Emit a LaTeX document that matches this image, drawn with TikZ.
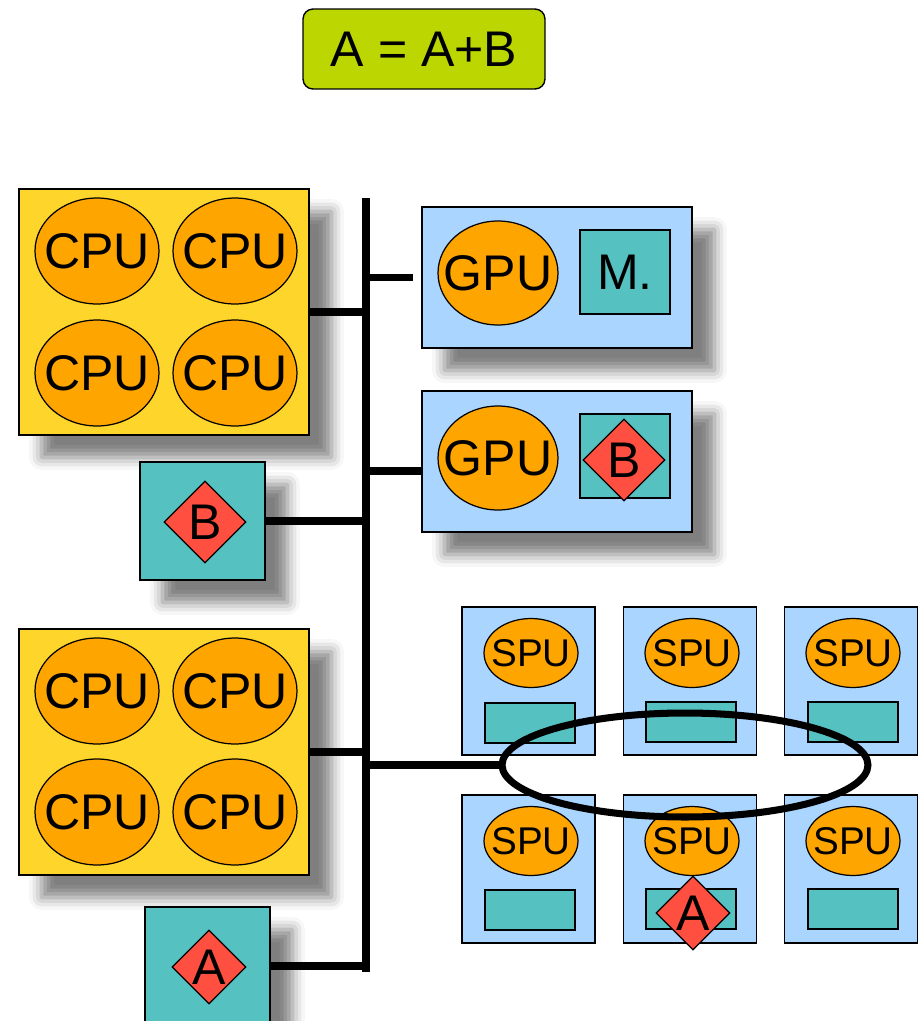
\documentclass[tikz,border=0pt]{standalone}
\usepackage{fontspec}
\setmainfont{Liberation Sans}
\usepackage{xcolor}
\usepackage{tikz}
\usetikzlibrary{shapes.geometric, positioning, shadows.blur}
\definecolor{hostyellow}{HTML}{FDD52B}
\definecolor{coreorange}{HTML}{FFA500}
\definecolor{memteal}{HTML}{55C1C1}
\definecolor{cardblue}{HTML}{AAD5FF}
\definecolor{opred}{HTML}{FF4F40}
\definecolor{oplime}{HTML}{BBD600}
\newcommand{\labelfont}{\fontsize{28.5}{31}\selectfont}
\newcommand{\spufont}{\fontsize{22}{24}\selectfont}
\tikzstyle{bus}     = [line width=4pt]
\tikzstyle{shadowed} = [blur shadow={shadow xshift=0.45cm, shadow yshift=-0.45cm, shadow blur radius=0.25cm, shadow opacity=50}]
\tikzset{every node/.style={align=center}}

\begin{document}
\begin{tikzpicture}[x=0.02cm, y=-0.02cm,
    board/.style={rectangle, draw, line width=0.7pt, fill=hostyellow,
                  minimum width=5.8cm, minimum height=4.92cm, shadowed},
    cpu/.style={ellipse, draw, line width=0.7pt, fill=coreorange, inner xsep=-0.3cm, inner ysep=0pt,
                minimum width=2.48cm, minimum height=2.12cm, font=\labelfont},
    memory/.style={rectangle, draw, line width=0.7pt, fill=memteal,
                   minimum width=2.5cm, minimum height=2.36cm, shadowed},
    operand/.style={diamond, aspect=1, draw, line width=0.7pt, fill=opred, inner sep=0pt,
                    minimum width=1.64cm, minimum height=1.64cm, font=\labelfont},
    card/.style={rectangle, draw, line width=0.7pt, fill=cardblue,
                 minimum width=5.4cm, minimum height=2.82cm, shadowed},
    gpu/.style={ellipse, draw, line width=0.7pt, fill=coreorange, inner xsep=-0.3cm, inner ysep=0pt,
                minimum width=2.4cm, minimum height=2.08cm, font=\labelfont},
    gpumem/.style={rectangle, draw, line width=0.7pt, fill=memteal, inner sep=0pt,
                   minimum width=1.8cm, minimum height=1.68cm, font=\labelfont},
    spe/.style={rectangle, draw, line width=0.7pt, fill=cardblue,
                minimum width=2.66cm, minimum height=2.96cm},
    spu/.style={ellipse, draw, line width=0.7pt, fill=coreorange, inner xsep=-0.3cm, inner ysep=0pt,
                minimum width=1.88cm, minimum height=1.38cm, font=\spufont},
    store/.style={rectangle, draw, line width=0.7pt, fill=memteal,
                  minimum width=1.8cm, minimum height=0.8cm},
    ring/.style={ellipse, draw, line width=4pt, inner sep=0pt,
                 minimum width=7.32cm, minimum height=2.08cm}
]
  \useasboundingbox (0,0) rectangle (921,1021);

  % --- operation ---
  \node[rectangle, rounded corners=0.2cm, draw, line width=0.8pt, fill=oplime,
        minimum width=4.84cm, minimum height=1.6cm, font=\labelfont] (op) at (424,49) {A = A+B};

  % --- host side ---
  \node[board] (hostA) at (164,312) {};
  \node[cpu] (cA1) at (97,251)  {CPU};
  \node[cpu] (cA2) at (235,251) {CPU};
  \node[cpu] (cA3) at (97,373)  {CPU};
  \node[cpu] (cA4) at (235,373) {CPU};

  \node[memory]  (memB) at (202.5,521) {};
  \node[operand] (opB)  at (205,522)   {B};

  \node[board] (hostB) at (164,752) {};
  \node[cpu] (cB1) at (97,691)  {CPU};
  \node[cpu] (cB2) at (235,691) {CPU};
  \node[cpu] (cB3) at (97,812)  {CPU};
  \node[cpu] (cB4) at (235,812) {CPU};

  \node[memory]  (memA) at (207.5,966) {};
  \node[operand, minimum width=1.48cm, minimum height=1.48cm] (opA) at (209,967) {A};

  % --- GPU cards ---
  \node[card]   (gpuA) at (557,277.5) {};
  \node[gpu]    (gA)   at (498,273)   {GPU};
  \node[gpumem] (mA)   at (625,272)   {M.};
  \node[card]   (gpuB) at (557,461.5) {};
  \node[gpu]    (gB)   at (498,458)   {GPU};
  \node[gpumem] (mB)   at (625,456)   {};
  \node[operand] (opB2) at (624,460)  {B};

  % --- Cell SPEs ---
  \node[spe] (speA) at (528.5,681) {};
  \node[spe] (speB) at (690,681)   {};
  \node[spe] (speC) at (851,681)   {};
  \node[spe] (speD) at (528.5,869) {};
  \node[spe] (speE) at (690,869)   {};
  \node[spe] (speF) at (851,869)   {};
  \node[spu] (sA) at (531,653) {SPU};
  \node[spu] (sB) at (692,653) {SPU};
  \node[spu] (sC) at (853,653) {SPU};
  \node[spu] (sD) at (531,841) {SPU};
  \node[spu] (sE) at (692,841) {SPU};
  \node[spu] (sF) at (853,841) {SPU};
  \node[store] (lsA) at (530,723) {};
  \node[store] (lsB) at (691,722) {};
  \node[store] (lsC) at (853,722) {};
  \node[store] (lsD) at (530,910) {};
  \node[store] (lsE) at (691,909) {};
  \node[store] (lsF) at (853,909) {};
  \node[operand, minimum width=1.48cm, minimum height=1.48cm] (opA2) at (693,913) {A};
  \node[ring] (eib) at (685,765) {};

  % --- bus ---
  \coordinate (busTop) at (366,198);
  \coordinate (busBot) at (366,972);
  \coordinate (gpuBport) at ([yshift=-0.19cm]gpuB.west);
  \draw[bus] (busTop) -- (busBot);
  \draw[bus] (hostA.east) -- (hostA.east -| busTop);
  \draw[bus] (memB.east)  -- (memB.east -| busTop);
  \draw[bus] (hostB.east) -- (hostB.east -| busTop);
  \draw[bus] (memA.east)  -- (memA.east -| busTop);
  \draw[bus] (gpuA.west -| busTop) -- ([xshift=-0.16cm]gpuA.west);
  \draw[bus] (gpuBport -| busTop) -- (gpuBport);
  \draw[bus] (eib.west -| busTop) -- (eib.west);
\end{tikzpicture}
\end{document}
